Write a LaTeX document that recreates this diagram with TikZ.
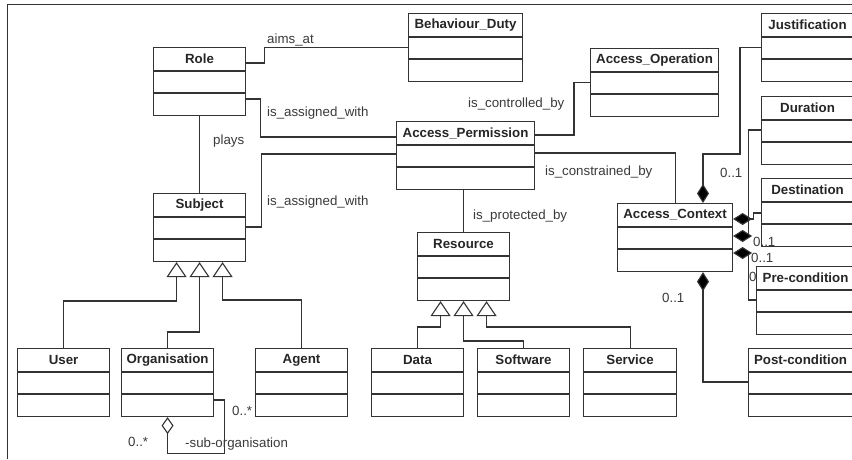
\documentclass[tikz,border=0pt]{standalone}
\usepackage{fontspec}
\setmainfont{Liberation Sans}
\usepackage{tikz}
\usetikzlibrary{arrows.meta}
\definecolor{umlline}{HTML}{333333}
\definecolor{umltext}{HTML}{3A3A3A}
\tikzset{
	classbox/.style={draw=umlline, line width=1.1pt, fill=white, inner sep=0pt, minimum height=68pt},
	classname/.style={font=\fontsize{13.3}{15}\selectfont\bfseries, text=black!85, inner sep=0pt},
	assoc/.style={draw=umlline, line width=1.1pt},
	lbl/.style={font=\fontsize{13.3}{15}\selectfont, text=umltext, inner sep=0pt, anchor=west},
	compo/.style={assoc, {Diamond[length=19pt,width=12pt,fill=black]}-},
	aggr/.style={assoc, {Diamond[open,length=17pt,width=12pt,fill=white]}-},
	gener/.style={assoc, -{Triangle[open,length=15pt,width=20pt,fill=white]}}
}
\begin{document}
\begin{tikzpicture}[x=1pt,y=-1pt]
		\useasboundingbox (0,0) rectangle (852,459);
		\clip (0,0) rectangle (852,459);
		\fill[white] (0,0) rectangle (852,459);
		\draw[umlline, line width=1pt] (7,459) -- (7,4) -- (852,4);
		\foreach \n/\x/\y/\w/\t in {role/153/47/92/Role, subject/153/193/92/Subject,
			behaviour/408/13/114/Behaviour\_Duty, perm/396/121/138/Access\_Permission,
			operation/590/48/128/Access\_Operation, justif/761/13/92/Justification,
			duration/761/96/92/Duration, destin/761/178/92/Destination,
			context/617/203/115/Access\_Context, postcond/748/348/104/Post-condition,
			resource/417/232/92/Resource, user/17/348/92/User, organis/121/348/92/Organisation,
			agent/255/348/92/Agent, data/371/348/92/Data, software/477/348/92/Software,
			service/583/348/93/Service}
		{
			\node[classbox, minimum width=\w, anchor=north west] (\n) at (\x,\y) {};
			\node[classname] at ([yshift=-12pt]\n.north) {\t};
			\draw[umlline, line width=1.1pt] ([yshift=-24pt]\n.north west) -- ([yshift=-24pt]\n.north east);
			\draw[umlline, line width=1.1pt] ([yshift=-46pt]\n.north west) -- ([yshift=-46pt]\n.north east);
		}
		% associations
		\draw[assoc] ([yshift=-16pt]role.north east) -- ++(18,0) |- (behaviour.west);
		\draw[assoc] ([yshift=-52pt]role.north east) -- ++(14,0) |- ([yshift=-16pt]perm.north west);
		\draw[assoc] ([yshift=-34pt]subject.north east) -- ++(15,0) |- ([yshift=-33pt]perm.north west);
		\draw[assoc] (role.south) -- (subject.north);
		\draw[assoc] ([yshift=-14pt]perm.north east) -| ([xshift=-16pt]operation.west) -- (operation.west);
		\draw[assoc] ([yshift=-32pt]perm.north east) -| (context.north);
		\draw[assoc] (resource.north |- perm.south) -- (resource.north);
		\node[lbl] at (267,40) {aims\_at};
		\node[lbl] at (267,113) {is\_assigned\_with};
		\node[lbl] at (267,202) {is\_assigned\_with};
		\node[lbl] at (213,141) {plays};
		\node[lbl] at (468,104) {is\_controlled\_by};
		\node[lbl] at (545,172) {is\_constrained\_by};
		\node[lbl] at (473,216) {is\_protected\_by};
		% generalisation
		\draw[gener] (user.north) -- ++(0,-47) -| ([xshift=-23pt]subject.south);
		\draw[gener] (organis.north) -- ++(0,-16) -| (subject.south);
		\draw[gener] (agent.north) -- ++(0,-48) -| ([xshift=23pt]subject.south);
		\draw[gener] (data.north) -- ++(0,-21) -| ([xshift=-23pt]resource.south);
		\draw[gener] (software.north) -- ++(0,-7) -| (resource.south);
		\draw[gener] (service.north) -- ++(0,-21) -| ([xshift=23pt]resource.south);
		% sub-organisation
		\draw[aggr] (organis.south) -- ++(0,36) -| ([xshift=10pt,yshift=-52pt]organis.north east) -- ([yshift=-52pt]organis.north east);
		\node[lbl] at (128,442) {0..*};
		\node[lbl] at (232,411) {0..*};
		\node[lbl] at (185,444) {-sub-organisation};
		% context parts
		\draw[compo] ([xshift=86pt]context.north west) -- ++(0,-49) -| ([xshift=-21pt]justif.west) -- (justif.west);
		\draw[compo] ([yshift=-16pt]context.north east) -- ++(20,0) |- ([yshift=-35pt]destin.north west);
		\draw[compo] ([yshift=-33pt]context.north east) -- ++(15,0) |- ([yshift=-34pt]duration.north west);
		\node[lbl] at (720,173) {0..1};
		\node[lbl] at (753,242) {0..1};
		\node[lbl] at (751,258) {0..1};
		\node[lbl] at (749,277) {0};
		\node[lbl] at (662,298) {0..1};
		\node[classbox, minimum width=98, anchor=north west] (precond) at (756,266) {};
		\node[classname] at ([yshift=-12pt]precond.north) {Pre-condition};
		\draw[umlline, line width=1.1pt] ([yshift=-24pt]precond.north west) -- ([yshift=-24pt]precond.north east);
		\draw[umlline, line width=1.1pt] ([yshift=-46pt]precond.north west) -- ([yshift=-46pt]precond.north east);
		\draw[compo] ([yshift=-50pt]context.north east) -- ++(15,0) |- ([yshift=-34pt]precond.north west);
		\draw[compo] ([xshift=86pt]context.south west) |- ([yshift=-34pt]postcond.north west);
	\end{tikzpicture}
\end{document}
